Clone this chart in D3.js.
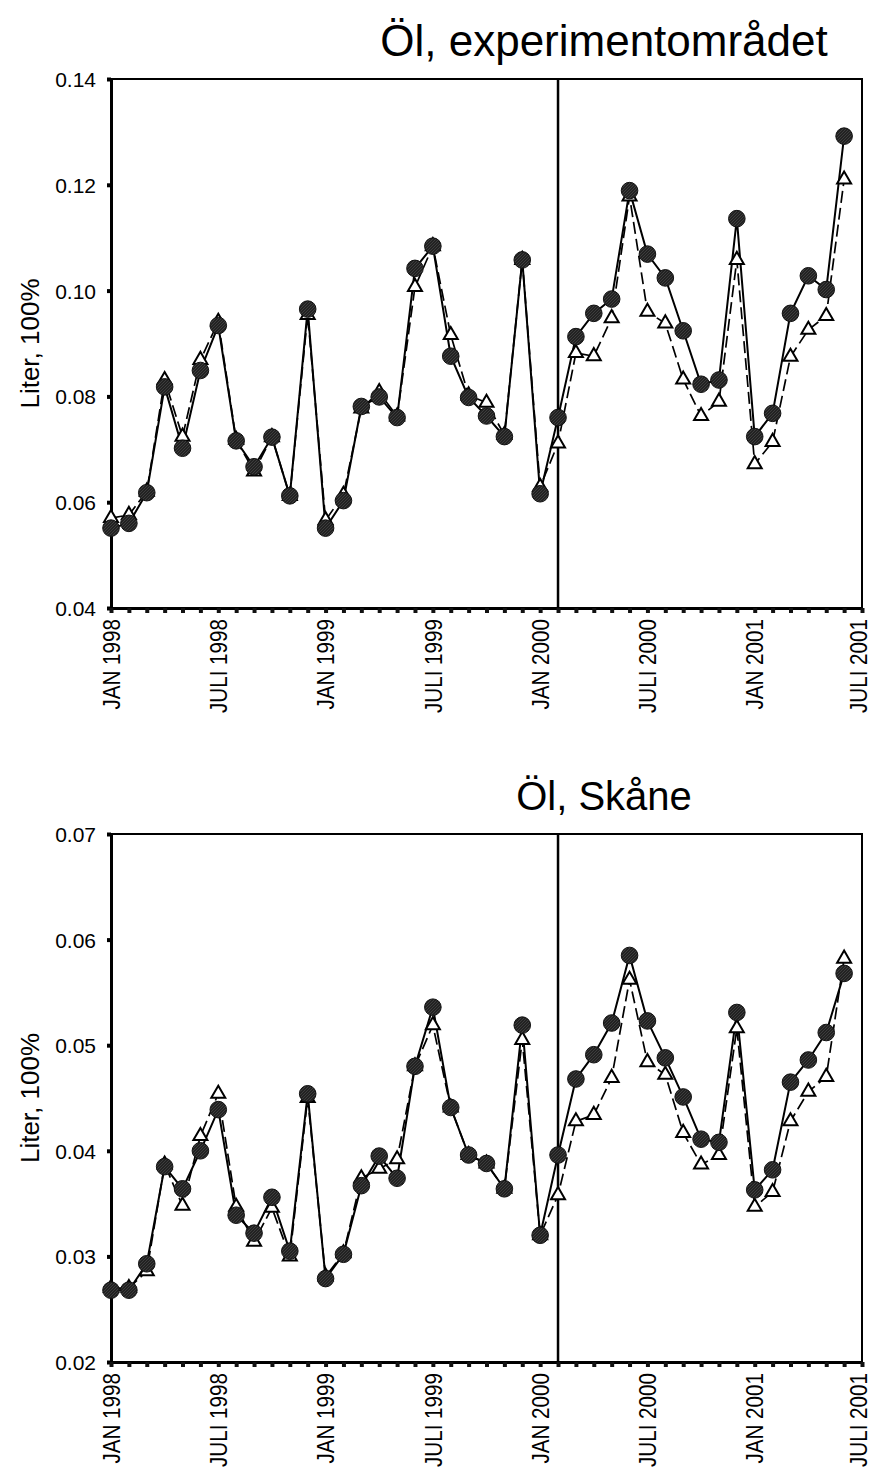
<!DOCTYPE html>
<html>
<head>
<meta charset="utf-8">
<script src="https://cdn.jsdelivr.net/npm/d3@7"></script>
<style>
  body { margin: 0; background: #fff; }
  text { font-family: "Liberation Sans", Arial, sans-serif; fill: #000; }
</style>
</head>
<body>
<div id="chart"></div>
<script>
// month index 0 = JAN 1998 ... 41 = JUNI 2001
const months = d3.range(42);
const tickLabels = ["JAN 1998", "JULI 1998", "JAN 1999", "JULI 1999", "JAN 2000", "JULI 2000", "JAN 2001", "JULI 2001"];
const startMonth = 25; // vertical line (FEB 2000)

// Öl, experimentområdet
const expSolid = [0.0551, 0.0560, 0.0618, 0.0818, 0.0702, 0.0849, 0.0934, 0.0716, 0.0667, 0.0723,
  0.0612, 0.0965, 0.0551, 0.0603, 0.0781, 0.0799, 0.0760, 0.1042, 0.1084, 0.0876,
  0.0798, 0.0763, 0.0724, 0.1058, 0.0616, 0.0760, 0.0913, 0.0957, 0.0984, 0.1189,
  0.1069, 0.1024, 0.0924, 0.0823, 0.0831, 0.1136, 0.0724, 0.0768, 0.0957, 0.1028,
  0.1002, 0.1292];
const expDashed = [0.0570, 0.0576, 0.0620, 0.0831, 0.0724, 0.0869, 0.0941, 0.0718, 0.0658, 0.0723,
  0.0612, 0.0954, 0.0566, 0.0614, 0.0777, 0.0808, 0.0762, 0.1007, 0.1084, 0.0916,
  0.0802, 0.0788, 0.0727, 0.1058, 0.0629, 0.0711, 0.0882, 0.0876, 0.0948, 0.1178,
  0.0960, 0.0938, 0.0832, 0.0763, 0.0790, 0.1058, 0.0672, 0.0714, 0.0875, 0.0926,
  0.0952, 0.1210];

// Öl, Skåne
const skaneSolid = [0.0268, 0.0268, 0.0293, 0.0385, 0.0364, 0.0400, 0.0439, 0.0339, 0.0322, 0.0356,
  0.0305, 0.0454, 0.0279, 0.0302, 0.0367, 0.0395, 0.0374, 0.0480, 0.0536, 0.0441,
  0.0396, 0.0388, 0.0364, 0.0519, 0.0320, 0.0396, 0.0468, 0.0491, 0.0521, 0.0585,
  0.0523, 0.0488, 0.0451, 0.0411, 0.0408, 0.0531, 0.0363, 0.0382, 0.0465, 0.0486,
  0.0512, 0.0568];
const skaneDashed = [0.0270, 0.0270, 0.0286, 0.0387, 0.0348, 0.0414, 0.0454, 0.0347, 0.0314, 0.0346,
  0.0300, 0.0450, 0.0281, 0.0303, 0.0374, 0.0383, 0.0392, 0.0480, 0.0519, 0.0441,
  0.0396, 0.0388, 0.0364, 0.0505, 0.0320, 0.0358, 0.0428, 0.0434, 0.0469, 0.0562,
  0.0484, 0.0472, 0.0417, 0.0387, 0.0396, 0.0516, 0.0347, 0.0361, 0.0428, 0.0456,
  0.0470, 0.0582];

const expTicks = [0.04, 0.06, 0.08, 0.10, 0.12, 0.14];
const skaneTicks = [0.02, 0.03, 0.04, 0.05, 0.06, 0.07];

const W = 871, H = 1471;
const svg = d3.select("#chart").append("svg")
  .attr("width", W)
  .attr("height", H);

// hatched fill for the dots
const pat = svg.append("defs").append("pattern")
  .attr("id", "hatch")
  .attr("patternUnits", "userSpaceOnUse")
  .attr("width", 3).attr("height", 3);
pat.append("rect").attr("width", 3).attr("height", 3).attr("fill", "#222");
pat.append("path").attr("d", "M0,3 L3,0").attr("stroke", "#444").attr("stroke-width", 0.8);

function panel(title, titleSize, solid, dashed, yTicks, top, bottom, titleY) {
  const left = 111, right = 862;
  const x = d3.scaleLinear().domain([0, 42]).range([left, right]);
  const y = d3.scaleLinear().domain([yTicks[0], yTicks[yTicks.length - 1]]).range([bottom, top]);

  const g = svg.append("g");

  g.append("text")
    .attr("x", 604).attr("y", titleY)
    .attr("text-anchor", "middle")
    .style("font-size", titleSize + "px")
    .text(title);

  // frame: top and right thin
  g.append("path")
    .attr("d", `M${left},${top} H${right} V${bottom}`)
    .attr("fill", "none").attr("stroke", "#000").attr("stroke-width", 2);

  // start line
  g.append("line")
    .attr("x1", x(startMonth)).attr("x2", x(startMonth))
    .attr("y1", top).attr("y2", bottom)
    .attr("stroke", "#000").attr("stroke-width", 2.5);

  // y axis
  const yAxis = g.append("g")
    .attr("transform", `translate(${left},0)`)
    .call(d3.axisLeft(y).tickValues(yTicks).tickFormat(d3.format(".2f"))
      .tickSizeInner(4).tickSizeOuter(0).tickPadding(11));
  yAxis.select(".domain").attr("stroke-width", 3);
  yAxis.selectAll(".tick line").attr("stroke-width", 4);
  yAxis.selectAll(".tick text")
    .attr("dy", "0.36em")
    .style("font-size", "21px")
    .style("font-family", "'Liberation Sans', Arial, sans-serif");

  // x axis
  const xAxis = g.append("g")
    .attr("transform", `translate(0,${bottom})`)
    .call(d3.axisBottom(x).tickValues(d3.range(43)).tickFormat("").tickSizeInner(5).tickSizeOuter(0));
  xAxis.select(".domain").attr("stroke-width", 3);
  xAxis.selectAll(".tick line").attr("stroke-width", 4).attr("stroke", "#111");

  g.selectAll(".xlab").data(tickLabels).join("text")
    .attr("class", "xlab")
    .attr("transform", (d, i) => `translate(${x(i * 6) - (i === 7 ? 4 : 0)},${bottom + 11}) rotate(-90) scale(0.86,1)`)
    .attr("text-anchor", "end")
    .attr("dy", "0.36em")
    .style("font-size", "24px")
    .text(d => d);

  g.append("text")
    .attr("transform", `translate(30,${(top + bottom) / 2}) rotate(-90)`)
    .attr("text-anchor", "middle")
    .attr("dy", "0.36em")
    .style("font-size", "26px")
    .text("Liter, 100%");

  const line = d3.line().x((d, i) => x(i)).y(d => y(d));

  g.append("path").datum(solid)
    .attr("d", line).attr("fill", "none")
    .attr("stroke", "#000").attr("stroke-width", 2);

  g.append("path").datum(dashed)
    .attr("d", line).attr("fill", "none")
    .attr("stroke", "#000").attr("stroke-width", 1.7)
    .attr("stroke-dasharray", "12,5");

  const tri = d3.symbol().type(d3.symbolTriangle).size(85);
  g.selectAll(".tri").data(dashed).join("path")
    .attr("class", "tri")
    .attr("transform", (d, i) => `translate(${x(i)},${y(d)})`)
    .attr("d", tri)
    .attr("fill", "#fff")
    .attr("stroke", "#000").attr("stroke-width", 2);

  g.selectAll(".dot").data(solid).join("circle")
    .attr("class", "dot")
    .attr("cx", (d, i) => x(i)).attr("cy", d => y(d))
    .attr("r", 8.3)
    .attr("fill", "url(#hatch)")
    .attr("stroke", "#111").attr("stroke-width", 1);
}

panel("Öl, experimentområdet", 44, expSolid, expDashed, expTicks, 79, 608, 56);
panel("Öl, Skåne", 40, skaneSolid, skaneDashed, skaneTicks, 834, 1362, 810);
</script>
</body>
</html>
